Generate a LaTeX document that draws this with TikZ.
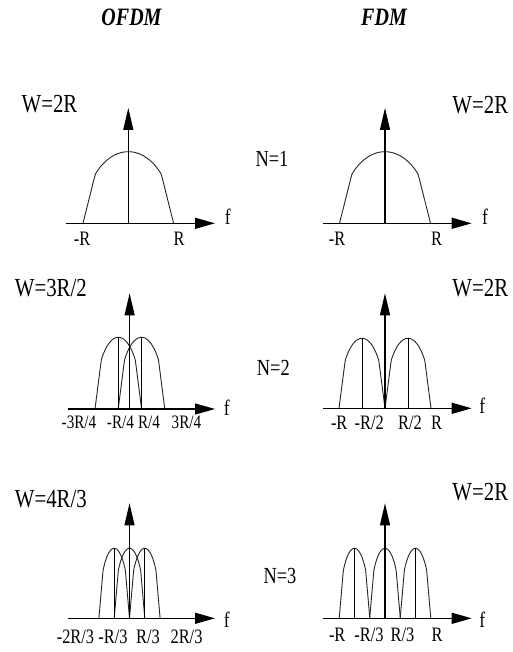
\documentclass[tikz,border=0pt]{standalone}
\usepackage{fontspec}
\setmainfont{Liberation Serif}[FakeStretch=0.8]
\usetikzlibrary{arrows.meta}
\newcommand{\sigLobe}[4]{%
  \draw[lobeline] plot[domain=-1:1,samples=81,variable=\t]
    ({#1+#3*\t},{#2-#4*ifthenelse(abs(\t)>0.73,0.683*(1-abs(\t))/0.27,sqrt(max(0,1-\t*\t)))});}
\tikzset{
  txt/.style={inner sep=0pt, text height=0.66em, text depth=0pt},
  head/.style={txt, font=\fontsize{25}{25}\selectfont\bfseries\itshape},
  wlbl/.style={txt, font=\fontsize{26}{26}\selectfont},
  nlbl/.style={txt, font=\fontsize{23}{23}\selectfont},
  ticklbl/.style={txt, font=\fontsize{20.5}{20.5}\selectfont},
  smalltick/.style={txt, font=\fontsize{19}{19}\selectfont},
  flbl/.style={txt, font=\fontsize{22}{22}\selectfont},
  haxis/.style={line width=1.2pt, -{Triangle[length=20pt,width=11pt]}},
  vaxis/.style={line width=1.2pt, -{Triangle[length=22pt,width=10pt]}},
  lobeline/.style={line width=0.9pt, line join=round, draw=black!85},
  centerline/.style={line width=0.9pt}
}
\begin{document}
\begin{tikzpicture}[x=1pt,y=-1pt]
\fill[white] (0,0) rectangle (513,652);
\useasboundingbox (0,0) rectangle (513,652);

% headers
\node[head] (ofdm) at (131.5,22) {OFDM};
\node[head] (fdm) at (384,22) {FDM};

% ---------- N = 1 ----------
\node[nlbl] (n1) at (272,163.3) {N=1};
% OFDM
\node[wlbl] (wo1) at (49.5,109) {W=2R};
\sigLobe{128.3}{223.3}{45.3}{71.6}
\draw[haxis] (66,223.3) -- (215,223.3);
\draw[vaxis] (128.3,223.3) -- (128.3,108);
\node[flbl] (fo1) at (227.7,221) {f};
\node[ticklbl] (ao1) at (82,241.7) {-R};
\node[ticklbl] (bo1) at (179,241.7) {R};
% FDM
\node[wlbl] (wf1) at (480.3,110) {W=2R};
\sigLobe{385}{223.3}{45.5}{71.6}
\draw[haxis] (323,223.3) -- (471.7,223.3);
\draw[vaxis] (385,223.3) -- (385,108);
\node[flbl] (ff1) at (485,221) {f};
\node[ticklbl] (af1) at (337,241.7) {-R};
\node[ticklbl] (bf1) at (436.7,241.7) {R};

% ---------- N = 2 ----------
\node[nlbl] (n2) at (273.3,371.7) {N=2};
% OFDM
\node[wlbl] (wo2) at (50.8,293.3) {W=3R/2};
\sigLobe{118.3}{409}{23.3}{71.7}
\sigLobe{141.5}{409}{23.3}{71.7}
\draw[centerline] (118.3,409) -- (118.3,337.3);
\draw[centerline] (141.5,409) -- (141.5,337.3);
\draw[haxis] (68.3,409) -- (215,409);
\draw[vaxis] (129.6,409) -- (129.6,293.3);
\node[flbl] (fo2) at (226.7,412.5) {f};
\node[smalltick] (ao2) at (79,425) {-3R/4};
\node[smalltick] (bo2) at (120.5,425) {-R/4};
\node[smalltick] (co2) at (149,425) {R/4};
\node[smalltick] (do2) at (186.5,425) {3R/4};
% FDM
\node[wlbl] (wf2) at (480.3,293.3) {W=2R};
\sigLobe{362}{408.3}{23}{70}
\sigLobe{408}{408.3}{23}{70}
\draw[centerline] (362,408.3) -- (362,338.3);
\draw[centerline] (408,408.3) -- (408,338.3);
\draw[haxis] (323.3,408.3) -- (471.7,408.3);
\draw[vaxis] (385,408.3) -- (385,293.3);
\node[flbl] (ff2) at (482.3,410) {f};
\node[ticklbl] (af2) at (339.2,425.8) {-R};
\node[ticklbl] (bf2) at (369.2,425.8) {-R/2};
\node[ticklbl] (cf2) at (410,425.8) {R/2};
\node[ticklbl] (df2) at (436.7,425.8) {R};

% ---------- N = 3 ----------
\node[nlbl] (n3) at (280,580) {N=3};
% OFDM
\node[wlbl] (wo3) at (50.8,504) {W=4R/3};
\sigLobe{114.2}{618.3}{15.3}{70}
\sigLobe{129.5}{618.3}{15.3}{70}
\sigLobe{144.8}{618.3}{15.3}{70}
\draw[centerline] (114.2,618.3) -- (114.2,548.3);
\draw[centerline] (144.8,618.3) -- (144.8,548.3);
\draw[haxis] (68.3,618.3) -- (215,618.3);
\draw[vaxis] (129.5,618.3) -- (129.5,503.3);
\node[flbl] (fo3) at (226.7,624) {f};
\node[ticklbl] (ao3) at (75.5,640) {-2R/3};
\node[ticklbl] (bo3) at (113,640) {-R/3};
\node[ticklbl] (co3) at (148,640) {R/3};
\node[ticklbl] (do3) at (186.5,640) {2R/3};
% FDM
\node[wlbl] (wf3) at (480.3,497.5) {W=2R};
\sigLobe{354.5}{618.3}{15.3}{70}
\sigLobe{385}{618.3}{15.3}{70}
\sigLobe{415.5}{618.3}{15.3}{70}
\draw[centerline] (354.5,618.3) -- (354.5,548.3);
\draw[centerline] (415.5,618.3) -- (415.5,548.3);
\draw[haxis] (323.3,618.3) -- (471.7,618.3);
\draw[vaxis] (385,618.3) -- (385,503.3);
\node[flbl] (ff3) at (482.3,624) {f};
\node[ticklbl] (af3) at (337.2,638.3) {-R};
\node[ticklbl] (bf3) at (369,638.3) {-R/3};
\node[ticklbl] (cf3) at (402.5,638.3) {R/3};
\node[ticklbl] (df3) at (437,638.3) {R};
\end{tikzpicture}
\end{document}
